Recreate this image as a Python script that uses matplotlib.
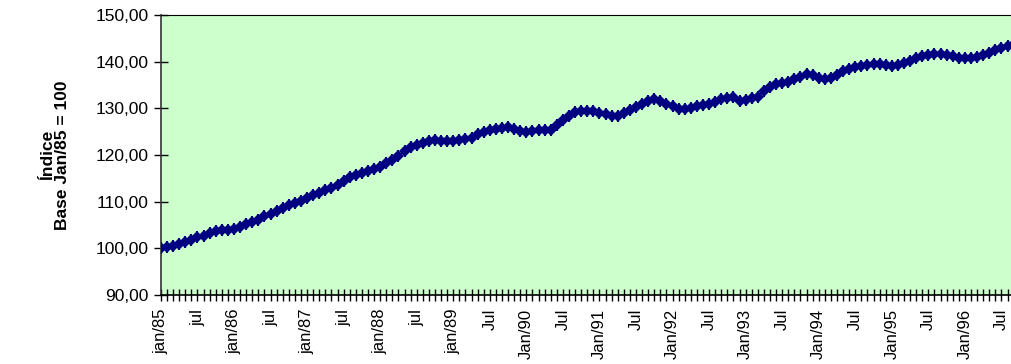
import numpy as np
import matplotlib
matplotlib.use('Agg')
import matplotlib.pyplot as plt
from matplotlib.ticker import FuncFormatter, MultipleLocator


# monthly index, jan/85 .. sep/96 (base jan/85 = 100)
valores = [
    100.0, 100.2, 100.5, 100.9, 101.3, 101.8, 102.3, 102.7, 103.2, 103.7, 103.9, 103.8,
    104.1, 104.6, 105.1, 105.7, 106.1, 106.8, 107.4, 107.9, 108.6, 109.2, 109.6, 110.1,
    110.7, 111.3, 111.8, 112.4, 112.9, 113.6, 114.3, 115.2, 115.7, 116.1, 116.5, 116.9,
    117.4, 118.2, 119.0, 119.8, 120.9, 121.7, 122.1, 122.5, 122.9, 123.2, 123.0, 122.9,
    122.9, 123.1, 123.4, 123.7, 124.4, 125.0, 125.3, 125.5, 125.8, 126.0, 125.6, 125.1,
    124.9, 125.1, 125.3, 125.3, 125.4, 126.4, 127.5, 128.3, 129.1, 129.5, 129.5, 129.3,
    129.0, 128.7, 128.3, 128.4, 129.0, 129.6, 130.2, 130.8, 131.5, 132.0, 131.5, 130.9,
    130.4, 129.9, 129.9, 130.0, 130.4, 130.7, 131.0, 131.4, 131.9, 132.2, 132.3, 131.6,
    131.7, 132.1, 132.5, 133.7, 134.6, 135.2, 135.5, 135.7, 136.2, 136.7, 137.3, 137.1,
    136.5, 136.3, 136.5, 137.2, 138.0, 138.5, 138.9, 139.0, 139.2, 139.4, 139.4, 139.3,
    139.1, 139.3, 139.7, 140.2, 140.8, 141.3, 141.5, 141.6, 141.6, 141.5, 141.2, 140.8,
    140.7, 140.7, 141.0, 141.4, 141.8, 142.4, 142.9, 143.3, 143.7,
]

rotulos = ['jan/85', 'jul', 'jan/86', 'jul', 'jan/87', 'jul', 'jan/88', 'jul',
           'jan/89', 'Jul', 'Jan/90', 'Jul', 'Jan/91', 'Jul', 'Jan/92', 'Jul',
           'Jan/93', 'Jul', 'Jan/94', 'Jul', 'Jan/95', 'Jul', 'Jan/96', 'Jul']

plt.rcParams['font.family'] = ['Liberation Sans', 'DejaVu Sans']

fig = plt.figure(figsize=(10.12, 3.64), dpi=100)
ax = fig.add_axes([0.159, 0.19, 0.845, 0.769])
ax.set_facecolor('#CCFFCC')

x = np.arange(len(valores))
ax.plot(x, valores, color='#000080', lw=1.3, zorder=3)
ax.plot(x, valores, ls='none', marker='|', ms=9, mew=1.5, color='#000080', zorder=3)
ax.plot(x, valores, ls='none', marker='D', ms=6.5, mew=0, color='#000080', zorder=4)

ax.set_ylim(90, 150)
ax.set_xlim(0, 140.4)
ax.yaxis.set_major_locator(MultipleLocator(10))
ax.yaxis.set_major_formatter(FuncFormatter(lambda v, p: ('%.2f' % v).replace('.', ',')))

ax.set_xticks(np.arange(0, len(rotulos) * 6, 6))
ax.set_xticklabels(rotulos, rotation=90, fontsize=12)
ax.set_xticks(np.arange(0, 141), minor=True)
ax.tick_params(axis='x', which='both', direction='inout', length=8, width=1, pad=6)
ax.tick_params(axis='y', direction='inout', length=10, width=1, labelsize=12.5, pad=4)

ax.spines['right'].set_visible(False)
ax.spines['left'].set_color('#333333')
ax.spines['left'].set_linewidth(1.2)
ax.spines['bottom'].set_linewidth(1.2)

fig.text(55 / 1012, 1 - 155 / 364, 'Índice\nBase Jan/85 = 100', rotation=90,
         ha='center', va='center', multialignment='center',
         fontsize=12.5, fontweight='bold', linespacing=1.0)

fig.savefig('out.png', dpi=100)
